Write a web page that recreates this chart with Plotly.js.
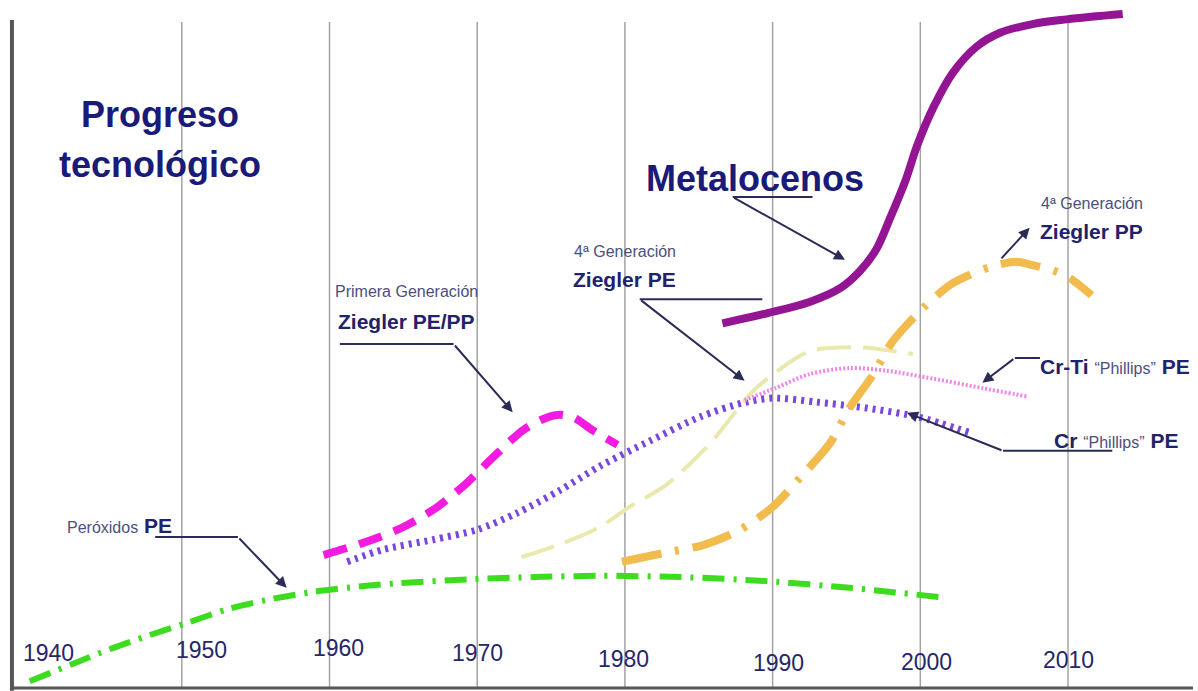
<!DOCTYPE html>
<html>
<head>
<meta charset="utf-8">
<script src="https://cdn.plot.ly/plotly-3.0.1.min.js"></script>
<style>
  html, body { margin: 0; padding: 0; background: #ffffff; }
  #chart { width: 1198px; height: 691px; }
</style>
</head>
<body>
<div id="chart"></div>
<script>
// Decades shown along the time axis
const tickYears = [1940, 1950, 1960, 1970, 1980, 1990, 2000, 2010];
const tickLabels = ['1940', '1950', '1960', '1970', '1980', '1990', '2000', '2010'];
const gridYears = [1950, 1960, 1970, 1980, 1990, 2000, 2010];

// Peróxidos PE
const peroxYear = [1939.7, 1942.6, 1945.1, 1947.8, 1950.3, 1953.1, 1955.8, 1958.9, 1962.5, 1964.8, 1969.7, 1973.8, 1978.3, 1983.9, 1989.6, 1995.2, 2001.8];
const peroxVal  = [1.0, 3.6, 5.8, 7.9, 9.7, 11.8, 13.2, 14.4, 15.3, 15.7, 16.3, 16.6, 16.8, 16.6, 16.0, 15.0, 13.5];

// Primera generación Ziegler PE/PP
const zpeppYear = [1959.6, 1962.5, 1965.0, 1967.3, 1969.3, 1971.1, 1973.1, 1974.6, 1975.6, 1976.6, 1977.8, 1979.5];
const zpeppVal  = [19.9, 21.9, 24.1, 27.1, 30.7, 34.6, 38.6, 40.4, 40.9, 40.4, 38.6, 36.4];

// Cr "Phillips" PE
const crYear = [1961.2, 1963.6, 1967.0, 1970.0, 1972.7, 1975.6, 1978.3, 1981.7, 1985.1, 1988.0, 1990.0, 1993.0, 1996.4, 1999.8, 2003.4];
const crVal  = [18.9, 20.7, 22.2, 23.7, 26.2, 29.6, 33.2, 37.0, 40.6, 42.7, 43.4, 42.8, 41.9, 40.6, 38.2];

// 4ª generación Ziegler PE
const zpeYear = [1973.0, 1975.8, 1978.3, 1980.3, 1982.8, 1985.8, 1988.3, 1989.3, 1991.6, 1992.7, 1995.4, 1996.6, 1999.5];
const zpeVal  = [19.6, 21.7, 24.1, 27.1, 30.4, 36.7, 43.6, 45.7, 49.4, 50.6, 51.0, 50.9, 50.0];

// Cr-Ti "Phillips" PE
const crtiYear = [1988.1, 1990.2, 1992.5, 1995.2, 1997.7, 2000.9, 2004.2, 2007.3];
const crtiVal  = [43.1, 44.9, 47.0, 47.9, 47.5, 46.3, 44.9, 43.6];

// 4ª generación Ziegler PP
const zppYear = [1979.8, 1982.6, 1985.3, 1987.8, 1990.0, 1991.9, 1993.9, 1995.2, 1996.8, 1998.1, 2000.2, 2002.2, 2004.7, 2006.5, 2007.6, 2008.9, 2010.1, 2011.6];
const zppVal  = [18.9, 20.2, 21.4, 23.7, 27.1, 31.6, 36.7, 41.9, 46.9, 51.8, 56.9, 60.6, 63.0, 63.8, 63.3, 62.6, 61.4, 58.8];

// Metalocenos
const metYear = [1986.6, 1989.6, 1992.5, 1994.6, 1995.9, 1997.0, 1998.0, 1999.0, 1999.8, 2000.9, 2002.2, 2003.8, 2005.4, 2007.6, 2009.9, 2013.7];
const metVal  = [54.6, 56.1, 57.8, 59.9, 62.4, 65.6, 70.6, 76.0, 81.3, 87.0, 92.1, 96.0, 98.1, 99.4, 100.1, 100.9];

const FONT = '"Liberation Sans", Arial, Helvetica, sans-serif';
const NAVY = '#1a1a78';
const LABEL = '#22226a';
const SOFT = '#4e4e7c';
const LEADER = '#2b2b58';

function curve(x, y, color, width, dash, smoothing) {
  return {
    type: 'scatter', mode: 'lines', x: x, y: y, hoverinfo: 'skip',
    line: { color: color, width: width, dash: dash, shape: 'spline', smoothing: smoothing || 0.8 }
  };
}

const traces = [
  curve(peroxYear, peroxVal, '#3ddc1e', 6, '22px,9px,3px,9px'),
  curve(zpeppYear, zpeppVal, '#f21ce0', 8, '24px,13px'),
  curve(crYear, crVal, '#7a46e0', 7, '3px,5px'),
  curve(zpeYear, zpeVal, '#e9e9ae', 4, '34px,12px'),
  curve(crtiYear, crtiVal, '#ee86e8', 4, '2px,2px'),
  curve(zppYear, zppVal, '#f2bb4e', 8, '40px,14px,4px,14px'),
  curve(metYear, metVal, '#931593', 8, 'solid', 1.0)
];

// Frame: gridlines, left and bottom axis lines
const shapes = gridYears.map(yr => ({
  type: 'line', xref: 'x', yref: 'y', x0: yr, x1: yr, y0: 0, y1: 99.7,
  line: { color: '#a3a3a3', width: 1.5 }, layer: 'below'
}));
shapes.push({ type: 'line', xref: 'x', yref: 'y', x0: 1938.5, x1: 1938.5, y0: -0.4, y1: 100,
  line: { color: '#565656', width: 4 }, layer: 'below' });
shapes.push({ type: 'line', xref: 'x', yref: 'y', x0: 1938.4, x1: 2018.46, y0: 0, y1: 0,
  line: { color: '#565656', width: 3 }, layer: 'below' });

// Horizontal parts of the label leaders
const leaderRuns = [
  [1987.3, 1992.7, 73.5],   // Metalocenos
  [1981.0, 1989.3, 58.2],   // Ziegler PE
  [1960.7, 1968.4, 51.5],   // Ziegler PE/PP
  [1948.2, 1953.8, 22.6],   // Peróxidos PE
  [2006.4, 2008.1, 49.4],   // Cr-Ti
  [2005.6, 2013.0, 35.5]    // Cr
];
leaderRuns.forEach(r => shapes.push({
  type: 'line', xref: 'x', yref: 'y', x0: r[0], x1: r[1], y0: r[2], y1: r[2],
  line: { color: LEADER, width: 2 }
}));

// Arrow legs of the leaders: [headX, headY, tailX, tailY]
const arrowLegs = [
  [1994.9, 64.1, 1987.3, 73.5],
  [1988.1, 46.0, 1981.0, 58.2],
  [1972.4, 41.3, 1968.4, 51.5],
  [1957.1, 15.0, 1953.8, 22.6],
  [2007.4, 68.9, 2005.4, 64.1],
  [2004.2, 45.7, 2006.4, 49.4],
  [1999.1, 41.2, 2005.6, 35.5]
];

const annotations = [];
arrowLegs.forEach(a => annotations.push({
  x: a[0], y: a[1], ax: a[2], ay: a[3], xref: 'x', yref: 'y', axref: 'x', ayref: 'y',
  text: '', showarrow: true, arrowhead: 2, arrowsize: 1.1, arrowwidth: 2,
  arrowcolor: LEADER, standoff: 0, startstandoff: 0
}));

// Decade labels sit just above the bottom axis
const tickLabelY = [5.2, 5.7, 6.0, 5.2, 4.3, 3.7, 3.9, 4.2];
const tickLabelX = [1941.0, 1951.3, 1960.6, 1970.05, 1979.9, 1990.4, 2000.4, 2010.0];
tickYears.forEach((yr, i) => annotations.push({
  x: tickLabelX[i], y: tickLabelY[i], xref: 'x', yref: 'y', showarrow: false,
  text: tickLabels[i], font: { family: FONT, size: 23, color: '#26266a' }
}));

function label(x, y, text, size, color, anchor) {
  annotations.push({
    x: x, y: y, xref: 'x', yref: 'y', showarrow: false, text: text,
    xanchor: anchor || 'center', yanchor: 'middle',
    font: { family: FONT, size: size, color: color }
  });
}

label(1948.5, 85.8, '<b>Progreso</b>', 36, NAVY);
label(1948.5, 78.3, '<b>tecnológico</b>', 36, NAVY);
label(1988.8, 76.3, '<b>Metalocenos</b>', 36, NAVY);

label(1980.0, 65.4, '4ª Generación', 16, SOFT);
label(1980.0, 61.1, '<b>Ziegler PE</b>', 21, LABEL);

label(1965.2, 59.3, 'Primera Generación', 16, SOFT);
label(1965.2, 54.9, '<b>Ziegler PE/PP</b>', 21, LABEL);

label(2011.6, 72.6, '4ª Generación', 16, SOFT);
label(2011.6, 68.3, '<b>Ziegler PP</b>', 21, LABEL);

label(1945.8, 24.4, '<span style="font-size:16px;fill:' + SOFT + '">Peróxidos</span> <b>PE</b>', 21, LABEL);
label(2008.0, 48.1, '<b>Cr-Ti</b> <span style="font-size:16px;fill:' + SOFT + '">“Phillips”</span> <b>PE</b>', 21, LABEL, 'left');
label(2008.9, 37.1, '<b>Cr</b> <span style="font-size:16px;fill:' + SOFT + '">“Phillips”</span> <b>PE</b>', 21, LABEL, 'left');

const layout = {
  width: 1198, height: 691,
  margin: { l: 0, r: 0, t: 0, b: 0, pad: 0 },
  paper_bgcolor: '#ffffff', plot_bgcolor: '#ffffff',
  showlegend: false,
  xaxis: { range: [1937.69, 2018.8], visible: false, fixedrange: true },
  yaxis: { range: [-0.45, 103.0], visible: false, fixedrange: true },
  shapes: shapes,
  annotations: annotations
};

Plotly.newPlot('chart', traces, layout, { staticPlot: true, displayModeBar: false });
</script>
</body>
</html>
